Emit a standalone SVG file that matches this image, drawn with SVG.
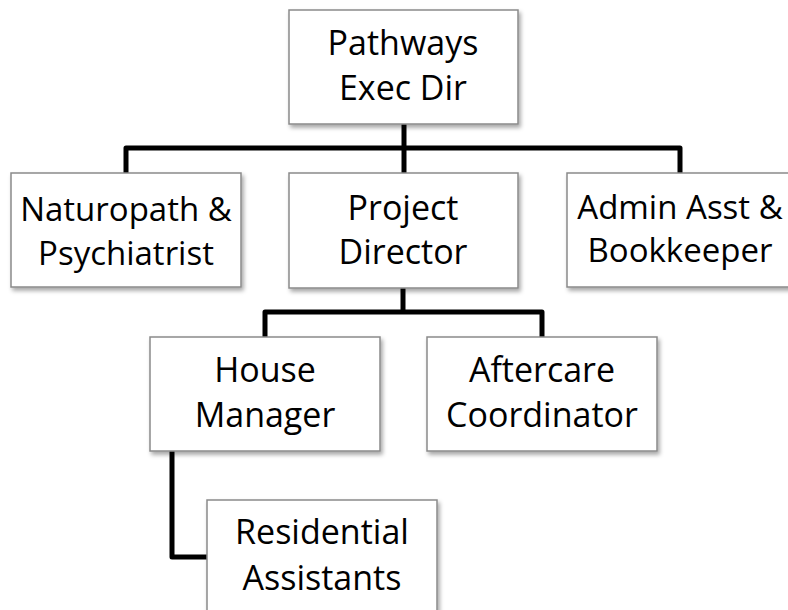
<svg xmlns="http://www.w3.org/2000/svg" width="788" height="610" viewBox="0 0 788 610">
<style>
.box{fill:#fff;stroke:#8a8a8a;stroke-width:1.5;filter:url(#sh)}
.t{font-family:"Open Sans","Liberation Sans",sans-serif;font-size:34px;fill:#000;text-anchor:middle}
.s{font-size:33px}
.c{fill:none;stroke:#000;stroke-width:5;stroke-linejoin:round;stroke-linecap:butt}
</style>
<defs>
<filter id="sh" x="-10%" y="-10%" width="125%" height="130%">
<feDropShadow dx="2" dy="3" stdDeviation="2" flood-color="#000" flood-opacity="0.35"/>
</filter>
</defs>
<rect width="788" height="610" fill="#fff"/>
<g id="connectors">
<path class="c" d="M404 124 V173"/>
<path class="c" d="M126 173 V148 H680 V173"/>
<path class="c" d="M403 288 V312"/>
<path class="c" d="M265 337 V312 H542 V337"/>
<path class="c" d="M172 451 V557 H207"/>
</g>
<g id="exec">
<rect class="box" x="289" y="10" width="229" height="114"/>
<text class="t" x="403" y="55">Pathways</text>
<text class="t" x="403" y="100">Exec Dir</text>
</g>
<g id="naturopath">
<rect class="box" x="11" y="173" width="230" height="114"/>
<text class="t s" x="126" y="221">Naturopath &amp;</text>
<text class="t s" x="126" y="265">Psychiatrist</text>
</g>
<g id="project">
<rect class="box" x="289" y="173" width="229" height="115"/>
<text class="t" x="403" y="220">Project</text>
<text class="t" x="403" y="264">Director</text>
</g>
<g id="admin">
<rect class="box" x="567" y="173" width="230" height="114"/>
<text class="t s" x="680" y="219">Admin Asst &amp;</text>
<text class="t s" x="680" y="262">Bookkeeper</text>
</g>
<g id="house">
<rect class="box" x="150" y="337" width="230" height="114"/>
<text class="t" x="265" y="382">House</text>
<text class="t" x="265" y="427">Manager</text>
</g>
<g id="aftercare">
<rect class="box" x="427" y="337" width="230" height="114"/>
<text class="t" x="542" y="382">Aftercare</text>
<text class="t" x="542" y="427">Coordinator</text>
</g>
<g id="residential">
<rect class="box" x="207" y="500" width="230" height="120"/>
<text class="t" x="322" y="544">Residential</text>
<text class="t" x="322" y="590">Assistants</text>
</g>
</svg>
